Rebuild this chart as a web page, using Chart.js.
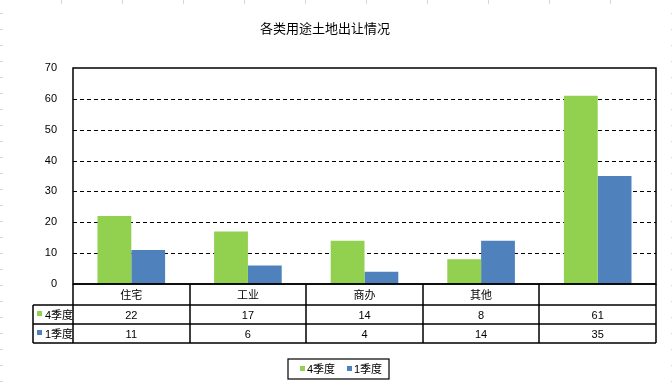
<!DOCTYPE html>
<html>
<head>
<meta charset="utf-8">
<script src="https://cdn.jsdelivr.net/npm/chart.js@4/dist/chart.umd.min.js"></script>
<style>
  html, body { margin: 0; padding: 0; background: #fff; }
  #wrap { width: 672px; height: 388px; position: relative; }
</style>
</head>
<body>
<div id="wrap"><canvas id="chart"></canvas></div>
<script>
const title = '各类用途土地出让情况';
const categories = ['住宅', '工业', '商办', '其他', ''];
const seriesNames = ['4季度', '1季度'];
const q4Values = [22, 17, 14, 8, 61];
const q1Values = [11, 6, 4, 14, 35];
const yTicks = [0, 10, 20, 30, 40, 50, 60, 70];

const GREEN = '#92D050';
const BLUE = '#4F81BD';
const FONT = '"Liberation Sans", "Noto Sans CJK SC", sans-serif';

// data table + title + legend + dashed grid drawn with the chart's scales
const extras = {
  id: 'extras',
  beforeDraw(chart) {
    // faint sheet gridlines peeking around the chart object
    const { ctx, width, height } = chart;
    ctx.save();
    ctx.fillStyle = '#D0D7E5';
    for (let px = 61; px < width - 10; px += 61) ctx.fillRect(px, 0, 1, 4);
    for (let py = 13; py < height; py += 16) {
      ctx.fillRect(0, py, 3, 1);
      ctx.fillRect(width - 1, py, 1, 1);
    }
    ctx.restore();
  },
  beforeDatasetsDraw(chart) {
    const { ctx, chartArea: a, scales: { y } } = chart;
    ctx.save();
    ctx.strokeStyle = '#000';
    ctx.lineWidth = 1;
    ctx.setLineDash([4, 3]);
    yTicks.forEach(v => {
      if (v === 0 || v === 70) return;
      const py = Math.round(y.getPixelForValue(v)) + 0.5;
      ctx.beginPath();
      ctx.moveTo(a.left, py);
      ctx.lineTo(a.right, py);
      ctx.stroke();
    });
    ctx.restore();
  },
  afterDraw(chart) {
    const { ctx, chartArea: a, scales: { x } } = chart;
    ctx.save();

    // title
    ctx.fillStyle = '#000';
    ctx.font = '13px "Noto Sans CJK SC", sans-serif';
    ctx.textAlign = 'center';
    ctx.textBaseline = 'middle';
    ctx.fillText(title, 325, 28);

    // plot border
    ctx.lineWidth = 1.5;
    ctx.strokeStyle = '#000';
    ctx.strokeRect(a.left, a.top, a.right - a.left, a.bottom - a.top);

    // table
    const rowH = [21, 19, 19];
    const r0 = a.bottom, r1 = r0 + rowH[0], r2 = r1 + rowH[1], r3 = r2 + rowH[2];
    const tLeft = 33;
    ctx.beginPath();
    ctx.moveTo(a.left, r0); ctx.lineTo(a.right, r0);
    ctx.moveTo(tLeft, r1); ctx.lineTo(a.right, r1);
    ctx.moveTo(tLeft, r2); ctx.lineTo(a.right, r2);
    ctx.moveTo(tLeft, r3); ctx.lineTo(a.right, r3);
    ctx.moveTo(tLeft, r1); ctx.lineTo(tLeft, r3);
    ctx.moveTo(a.left, r0); ctx.lineTo(a.left, r3);
    ctx.moveTo(a.right, r0); ctx.lineTo(a.right, r3);
    const n = categories.length;
    for (let i = 0; i < n - 1; i++) {
      const px = Math.round((x.getPixelForValue(i) + x.getPixelForValue(i + 1)) / 2);
      ctx.moveTo(px, r0); ctx.lineTo(px, r3);
    }
    ctx.stroke();

    ctx.font = '11px ' + FONT;
    ctx.textAlign = 'center';
    ctx.textBaseline = 'middle';
    const rows = [q4Values, q1Values];
    categories.forEach((c, i) => {
      const cx = x.getPixelForValue(i);
      ctx.fillText(c, cx, (r0 + r1) / 2 + 1);
      ctx.fillText(String(rows[0][i]), cx, (r1 + r2) / 2 + 1);
      ctx.fillText(String(rows[1][i]), cx, (r2 + r3) / 2 + 1);
    });

    // row headers
    ctx.textAlign = 'left';
    [[GREEN, (r1 + r2) / 2], [BLUE, (r2 + r3) / 2]].forEach(([col, cy], k) => {
      ctx.fillStyle = col;
      ctx.fillRect(tLeft + 4, Math.round(cy) - 4, 5, 5);
      ctx.fillStyle = '#000';
      ctx.fillText(seriesNames[k], tLeft + 12, cy + 1);
    });

    // legend box
    const lx = 288, ly = 359, lw = 101, lh = 20;
    ctx.lineWidth = 1.2;
    ctx.strokeRect(lx, ly, lw, lh);
    const items = [[GREEN, 300], [BLUE, 347]];
    items.forEach(([col, ix], k) => {
      ctx.fillStyle = col;
      ctx.fillRect(ix, ly + 7, 5, 5);
      ctx.fillStyle = '#000';
      ctx.fillText(seriesNames[k], ix + 7, ly + lh / 2 + 1);
    });

    ctx.restore();
  }
};

new Chart(document.getElementById('chart'), {
  type: 'bar',
  data: {
    labels: categories,
    datasets: [
      { label: seriesNames[0], data: q4Values, backgroundColor: GREEN },
      { label: seriesNames[1], data: q1Values, backgroundColor: BLUE }
    ]
  },
  options: {
    responsive: true,
    maintainAspectRatio: false,
    animation: false,
    layout: { padding: { top: 68, right: 16, bottom: 104, left: 0 } },
    categoryPercentage: 0.58,
    barPercentage: 1,
    plugins: {
      legend: { display: false },
      title: { display: false },
      tooltip: { enabled: false }
    },
    scales: {
      x: { display: false },
      y: {
        min: 0,
        max: 70,
        afterFit: s => { s.width = 73; },
        afterBuildTicks: s => { s.ticks = yTicks.map(v => ({ value: v })); },
        grid: { display: false },
        border: { display: false },
        ticks: {
          color: '#000',
          padding: 8,
          font: { family: FONT, size: 11 }
        }
      }
    }
  },
  plugins: [extras]
});
</script>
</body>
</html>
